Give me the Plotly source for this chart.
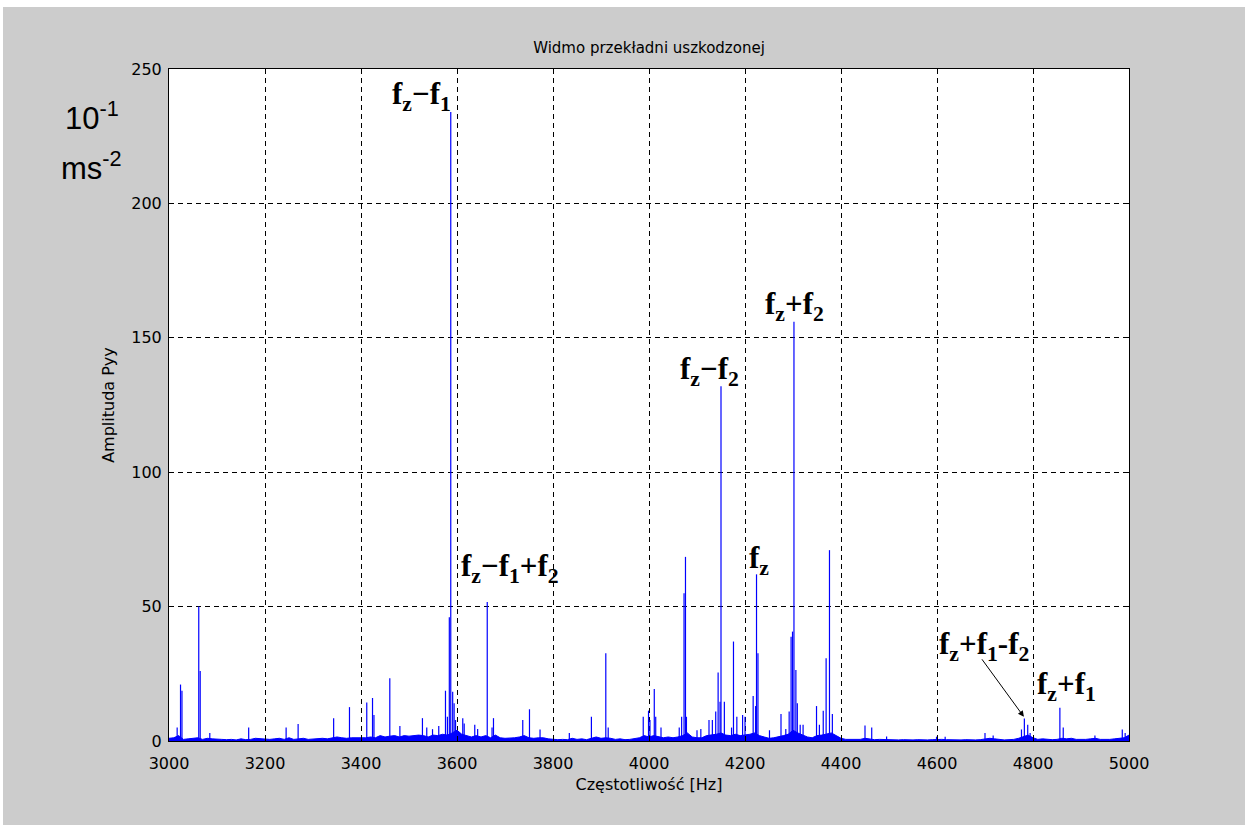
import plotly.graph_objects as go

# ---------------- data ----------------
# noise floor of the spectrum, sampled every 10 Hz from 3000 to 5000 Hz
floor_freq = list(range(3000, 5001, 10))
floor_amp = [
    1, 1.2, 2, 0.6, 0.8, 1, 1.2, 0.6, 1, 0.8, 0.6,
    0.6, 0.5, 0.6, 0.4, 0.8, 0.5, 0.6, 1, 0.8, 0.6,
    0.6, 0.8, 1, 0.6, 1.2, 0.6, 0.8, 1, 0.6, 0.8,
    0.8, 1, 0.8, 1.2, 1.5, 1.2, 1, 1.2, 1.2, 1,
    1.2, 1.5, 1.2, 2, 1.5, 1.8, 2, 1.5, 2, 1.8,
    2, 2.2, 2, 1.5, 2.2, 2, 2.5, 2.2, 3, 4,
    2.5, 2, 1.5, 2, 1.5, 2, 1.2, 2.2, 1.2, 1,
    1, 1.2, 1.5, 2, 1.2, 1, 1.2, 1.2, 0.8, 0.6,
    0.5, 0.6, 0.5, 1, 0.6, 0.8, 0.5, 1, 1.5, 1,
    1.2, 1, 0.6, 0.8, 0.5, 0.6, 1, 1.2, 2, 1.5,
    2, 1.5, 1.2, 1.5, 1.2, 1.5, 2, 3, 1.5, 1.2,
    1.2, 2, 2.2, 2.5, 3, 2.2, 2, 2.5, 2, 2.2,
    2.5, 3, 2, 1.5, 1, 1.2, 1.5, 2, 2.5, 4,
    3, 2.2, 1.5, 1.2, 2, 2.2, 2.5, 3, 2, 1,
    0.6, 0.6, 0.5, 0.6, 1, 0.8, 0.5, 0.6, 0.5, 0.4,
    0.5, 0.4, 0.5, 0.4, 0.4, 0.5, 0.4, 0.4, 0.5, 0.6,
    0.6, 0.5, 0.4, 0.4, 0.4, 0.5, 0.4, 0.4, 0.5, 0.8,
    1, 0.8, 0.5, 0.4, 0.5, 0.6, 1, 1.5, 2.2, 1.2,
    0.6, 0.8, 0.6, 0.5, 0.6, 1, 0.8, 1, 0.6, 0.5,
    0.6, 0.8, 1, 0.6, 0.5, 0.6, 0.8, 1, 1.2, 2.2,
]

# spectral lines (Hz, amplitude in 10^-1 m/s^2)
peak_freq = [
    3017, 3024, 3027, 3062, 3065, 3085, 3166, 3244, 3269, 3343, 3376, 3412,
    3424, 3427, 3460, 3481, 3528, 3537, 3549, 3562, 3576, 3580, 3584, 3587,
    3591, 3594, 3597, 3612, 3615, 3637, 3643, 3663, 3673, 3676, 3737, 3751,
    3773, 3834, 3880, 3910, 3915, 3988, 3999, 4002, 4011, 4014, 4025, 4063,
    4068, 4073, 4076, 4078, 4100, 4108, 4125, 4132, 4139, 4144, 4148, 4150,
    4157, 4172, 4176, 4183, 4195, 4200, 4217, 4222, 4224, 4227, 4251, 4275,
    4285, 4292, 4296, 4299, 4302, 4306, 4309, 4315, 4321, 4349, 4355, 4363,
    4369, 4376, 4382, 4450, 4464, 4495, 4599, 4617, 4700, 4717, 4776, 4782,
    4789, 4794, 4856, 4863, 4929, 4986, 4992,
]
peak_amp = [
    5, 21, 18.7, 50, 26, 3, 5, 5, 6.3, 8.5, 12.6, 14.3,
    16, 9.7, 23.3, 5.6, 8.5, 5, 4.4, 5.6, 18.7, 9, 46, 234,
    18.3, 14, 7.8, 8.5, 6.5, 6, 4.5, 51.7, 5, 8.5, 7.8, 11.8,
    4.3, 3, 9, 32.6, 5, 9, 11.3, 7.8, 19.3, 9, 5, 5,
    9, 55, 68.5, 9, 4, 4.5, 7.8, 7.8, 11, 25.5, 14.6, 132,
    14.6, 5, 37, 9, 9.7, 9, 16.7, 13, 62, 32.6, 4, 10,
    4.5, 11, 38.8, 40.7, 156, 26.4, 14, 6, 6, 13, 6, 11.3,
    30.8, 71, 10, 5.8, 5, 1.7, 1.6, 1.6, 3, 2, 4.3, 8.4,
    6, 3, 12.4, 5, 2, 4.3, 3,
]

x_ticks = [3000, 3200, 3400, 3600, 3800, 4000, 4200, 4400, 4600, 4800, 5000]
y_ticks = [0, 50, 100, 150, 200, 250]

# peak labels: (text, frequency, amplitude of label centre)
label_text = [
    "f<sub>z</sub>\u2212f<sub>1</sub>",
    "f<sub>z</sub>\u2212f<sub>1</sub>+f<sub>2</sub>",
    "f<sub>z</sub>\u2212f<sub>2</sub>",
    "f<sub>z</sub>+f<sub>2</sub>",
    "f<sub>z</sub>",
    "f<sub>z</sub>+f<sub>1</sub>-f<sub>2</sub>",
    "f<sub>z</sub>+f<sub>1</sub>",
]
label_freq = [3527, 3710, 4127, 4304, 4229, 4698, 4869]
label_amp = [240, 64.5, 137.5, 162, 67.5, 35.5, 20.5]

BLUE = "#0000FF"
GRAY = "#CCCCCC"

# ---------------- figure ----------------
fig = go.Figure()

fig.add_trace(go.Scatter(
    x=floor_freq, y=floor_amp, mode="lines",
    line=dict(color=BLUE, width=1), fill="tozeroy", fillcolor=BLUE,
    hoverinfo="skip", showlegend=False,
))

sx, sy = [], []
for f, a in zip(peak_freq, peak_amp):
    sx += [f, f, None]
    sy += [0, a, None]
fig.add_trace(go.Scatter(
    x=sx, y=sy, mode="lines", line=dict(color=BLUE, width=1.2),
    hoverinfo="skip", showlegend=False,
))

L, R, T, B = 169, 116, 69, 84
W, H = 1245, 825
PW, PH = W - L - R, H - T - B


def px_x(px):
    return (px - L) / PW


def px_y(py):
    return (H - B - py) / PH


annotations = []
for t, f, a in zip(label_text, label_freq, label_amp):
    annotations.append(dict(
        x=f, y=a, xref="x", yref="y", text="<b>" + t + "</b>", showarrow=False,
        font=dict(family="Liberation Serif", size=31, color="black"),
        xanchor="center", yanchor="middle",
    ))

# arrow pointing at the f_z+f_1-f_2 line
annotations.append(dict(
    x=4781, y=9, xref="x", yref="y", text="", showarrow=True,
    ax=-43, ay=-59, arrowhead=2, arrowsize=1.2, arrowwidth=1,
    arrowcolor="black",
))

# unit text
annotations.append(dict(
    x=px_x(92), y=px_y(116), xref="paper", yref="paper",
    text="10<sup>-1</sup>", showarrow=False,
    font=dict(family="Liberation Sans", size=31, color="black"),
    xanchor="center", yanchor="middle",
))
annotations.append(dict(
    x=px_x(91), y=px_y(166), xref="paper", yref="paper",
    text="ms<sup>-2</sup>", showarrow=False,
    font=dict(family="Liberation Sans", size=31, color="black"),
    xanchor="center", yanchor="middle",
))

shapes = [
    # white strips at the very top and left of the page
    dict(type="rect", xref="paper", yref="paper",
         x0=px_x(0), x1=px_x(W), y0=px_y(7), y1=px_y(0),
         fillcolor="white", line=dict(width=0), layer="below"),
    dict(type="rect", xref="paper", yref="paper",
         x0=px_x(0), x1=px_x(3), y0=px_y(H), y1=px_y(0),
         fillcolor="white", line=dict(width=0), layer="below"),
]

axis_common = dict(
    showline=True, linecolor="black", linewidth=1, mirror="ticks",
    ticks="inside", ticklen=5, tickcolor="black",
    showgrid=True, gridcolor="black", gridwidth=1, griddash="5px,4px",
    zeroline=False,
    tickfont=dict(family="DejaVu Sans", size=16, color="black"),
)

fig.update_layout(
    width=W, height=H,
    margin=dict(l=L, r=R, t=T, b=B, pad=0),
    paper_bgcolor=GRAY, plot_bgcolor="white",
    title=dict(text="Widmo przekładni uszkodzonej", x=0.5, xref="paper",
               y=1 - 48 / H, yanchor="middle",
               font=dict(family="DejaVu Sans", size=15, color="black")),
    xaxis=dict(range=[3000, 5000], tickvals=x_ticks, ticklabelstandoff=8,
               title=dict(text="Częstotliwość [Hz]", standoff=6,
                          font=dict(family="DejaVu Sans", size=16, color="black")),
               **axis_common),
    yaxis=dict(range=[0, 250], tickvals=y_ticks, ticklabelstandoff=3,
               title=dict(text="Amplituda Pyy", standoff=12,
                          font=dict(family="DejaVu Sans", size=16, color="black")),
               **axis_common),
    annotations=annotations,
    shapes=shapes,
    showlegend=False,
)

fig.write_html(
    "out.html",
    config={"displayModeBar": False},
    post_script="document.body.style.margin='0';document.body.style.padding='0';",
)
